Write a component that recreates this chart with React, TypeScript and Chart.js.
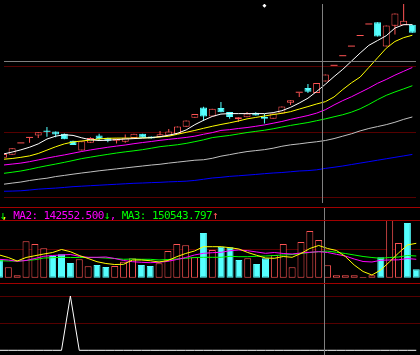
import React, { useEffect, useRef } from "react";
import { Chart, registerables } from "chart.js";

Chart.register(...registerables);

// ---------------- data ----------------
// trading-day slots (0 = partly cut-off first day)
const DAYS = Array.from({ length: 48 }, (_, i) => i);

const OPEN = [9.00, 9.33, 10.50, 11.07, 11.33, 11.75, 11.73, 11.50, 10.77, 9.77, 10.57, 11.33, 11.10, 10.77, 10.67, 11.07, 11.50, 11.23, 11.17, 11.33, 11.50, 12.23, 13.17, 14.23, 13.30, 14.17, 13.77, 13.00, 13.23, 13.70, 13.27, 13.07, 13.60, 14.73, 15.77, 16.27, 15.73, 16.93, 18.57, 19.57, 20.57, 21.67, 22.87, 23.10, 20.57, 22.73, 22.80, 22.83];
const HIGH = [9.40, 10.00, 10.50, 11.07, 11.67, 12.20, 11.73, 11.53, 10.77, 10.73, 11.13, 11.50, 11.10, 11.00, 11.43, 11.50, 11.50, 11.23, 11.80, 12.00, 12.27, 12.87, 13.57, 14.30, 14.10, 14.80, 13.77, 13.22, 13.77, 13.75, 13.55, 13.60, 14.33, 15.00, 15.77, 16.67, 16.77, 17.67, 18.57, 19.57, 20.57, 21.67, 22.87, 23.10, 22.77, 24.00, 25.50, 22.83];
const LOW = [9.00, 9.33, 10.50, 10.57, 11.07, 11.20, 11.13, 10.93, 10.33, 9.77, 10.57, 10.77, 10.63, 10.50, 10.57, 11.07, 11.10, 11.00, 11.15, 11.33, 11.50, 12.23, 13.17, 12.83, 13.30, 13.73, 13.07, 12.73, 13.23, 13.40, 12.57, 13.07, 13.60, 14.50, 15.33, 15.73, 15.73, 16.93, 18.57, 19.57, 20.57, 21.67, 22.87, 21.63, 20.57, 21.83, 22.80, 22.00];
const CLOSE = [9.40, 10.00, 10.50, 11.07, 11.67, 11.71, 11.43, 10.93, 10.33, 10.73, 11.07, 10.93, 10.77, 11.00, 11.10, 11.50, 11.10, 11.00, 11.45, 11.73, 12.27, 12.87, 13.57, 13.30, 14.10, 13.73, 13.25, 13.22, 13.60, 13.40, 13.07, 13.60, 14.33, 15.00, 15.77, 15.87, 16.77, 17.67, 18.57, 19.57, 20.57, 21.67, 22.87, 21.63, 22.77, 24.00, 23.27, 22.00];
const PREV_CLOSE = 9.55; // close of the day before the first slot

const MA5 = [9.40, 9.60, 9.83, 10.10, 10.45, 10.95, 11.25, 11.40, 11.33, 11.08, 10.87, 10.80, 10.83, 10.90, 10.95, 11.00, 11.05, 11.10, 11.20, 11.35, 11.55, 11.90, 12.45, 12.90, 13.30, 13.55, 13.60, 13.60, 13.60, 13.60, 13.60, 13.70, 13.90, 14.25, 14.70, 15.20, 15.90, 16.65, 17.45, 18.20, 19.05, 19.90, 20.70, 21.20, 21.70, 22.50, 22.85, 22.85];
const MA10 = [8.85, 8.93, 9.05, 9.20, 9.45, 9.80, 10.15, 10.45, 10.65, 10.75, 10.85, 10.97, 11.03, 11.05, 11.05, 11.05, 11.07, 11.10, 11.17, 11.25, 11.45, 11.65, 11.85, 12.07, 12.28, 12.47, 12.64, 12.83, 13.05, 13.20, 13.35, 13.50, 13.63, 13.80, 14.07, 14.33, 14.60, 14.84, 15.33, 16.10, 16.80, 17.40, 18.40, 19.40, 20.40, 21.10, 21.50, 21.75];
const MA20 = [8.25, 8.35, 8.45, 8.60, 8.78, 8.97, 9.14, 9.30, 9.48, 9.66, 9.82, 9.96, 10.10, 10.22, 10.33, 10.47, 10.59, 10.70, 10.82, 10.92, 11.02, 11.12, 11.25, 11.45, 11.62, 11.85, 11.93, 12.05, 12.15, 12.28, 12.42, 12.60, 12.78, 13.00, 13.20, 13.40, 13.65, 14.00, 14.50, 14.95, 15.35, 15.80, 16.25, 16.75, 17.15, 17.60, 18.00, 18.40];
const MA30 = [7.38, 7.50, 7.63, 7.80, 8.00, 8.18, 8.35, 8.53, 8.72, 8.92, 9.07, 9.22, 9.36, 9.50, 9.62, 9.73, 9.85, 10.00, 10.16, 10.26, 10.36, 10.50, 10.68, 10.87, 11.10, 11.22, 11.33, 11.48, 11.63, 11.75, 11.87, 12.02, 12.20, 12.37, 12.52, 12.67, 12.86, 13.05, 13.27, 13.48, 13.75, 14.10, 14.55, 15.05, 15.50, 15.85, 16.17, 16.50];
const MA60 = [6.25, 6.37, 6.48, 6.64, 6.77, 6.88, 7.05, 7.17, 7.30, 7.42, 7.53, 7.65, 7.75, 7.85, 7.95, 8.05, 8.15, 8.25, 8.33, 8.45, 8.55, 8.65, 8.75, 8.80, 8.95, 9.17, 9.33, 9.50, 9.65, 9.75, 9.85, 10.00, 10.20, 10.35, 10.45, 10.57, 10.67, 10.80, 11.00, 11.25, 11.50, 11.80, 12.05, 12.25, 12.45, 12.70, 13.00, 13.25];
const MA120 = [5.52, 5.54, 5.57, 5.65, 5.74, 5.80, 5.85, 5.92, 6.00, 6.05, 6.10, 6.15, 6.20, 6.25, 6.30, 6.35, 6.38, 6.42, 6.45, 6.50, 6.53, 6.57, 6.65, 6.77, 6.90, 6.97, 7.07, 7.13, 7.20, 7.27, 7.35, 7.42, 7.47, 7.55, 7.63, 7.67, 7.75, 7.90, 8.02, 8.15, 8.30, 8.45, 8.60, 8.75, 8.90, 9.05, 9.20, 9.35];

const PEAK_MARK_DAY = 30;
const PEAK_MARK_PRICE = 24.83;

const VOLUME = [100200, 58900, 13600, 206000, 190700, 166400, 122800, 132400, 83200, 104100, 64500, 71900, 60600, 66200, 90600, 109800, 71900, 66200, 81500, 151100, 190700, 183400, 115500, 253000, 156800, 175500, 172100, 100200, 109800, 77500, 109800, 128500, 190700, 58900, 202100, 264300, 213400, 70525, 13600, 13600, 13600, 4000, 13600, 115500, 326600, 196400, 309600, 47500];
const VOL_MA1 = [128500, 114300, 94500, 114300, 124500, 134100, 142600, 159600, 147200, 125700, 108700, 90600, 80400, 74700, 75800, 100200, 100200, 96200, 88900, 97400, 118900, 137000, 151100, 175500, 175500, 175500, 169800, 162400, 142600, 126800, 111500, 109800, 120000, 115500, 137000, 165300, 182300, 165300, 154000, 120000, 71900, 35100, 15300, 43600, 90600, 139800, 185100, 194700];
const VOL_MA2 = [104100, 100200, 92800, 97400, 108700, 121100, 125700, 128500, 131300, 121100, 115500, 115500, 117200, 108700, 97400, 90600, 87200, 84900, 87200, 92800, 103000, 114300, 128500, 138100, 141500, 143800, 152800, 156800, 152800, 145500, 138100, 142600, 137000, 134100, 139800, 143800, 147200, 142552.5, 132400, 122800, 105800, 91700, 88900, 98500, 100200, 101300, 108700, 104100];
const VOL_MA3 = [96200, 94500, 94500, 97400, 101900, 111500, 113200, 115500, 114300, 114300, 114300, 114300, 111500, 108700, 104100, 105800, 104100, 104100, 100200, 103000, 105800, 109800, 114300, 115500, 115500, 115500, 121100, 118900, 118900, 121100, 122800, 125700, 128500, 131300, 137000, 142600, 147200, 150543.797, 143800, 137000, 128500, 120000, 114300, 109800, 114300, 117200, 125700, 122800];

const SIGNAL = [0, 0, 0, 0, 0, 0, 0, 0, 100, 0, 0, 0, 0, 0, 0, 0, 0, 0, 0, 0, 0, 0, 0, 0, 0, 0, 0, 0, 0, 0, 0, 0, 0, 0, 0, 0, 0, 0, 0, 0, 0, 0, 0, 0, 0, 0, 0, 0];

const PRICE_GRID = [18.5, 11.7, 4.9];
const VOLUME_GRID = [160700];
const SIGNAL_GRID = [100, 50];

const CROSS_DAY = 37; // day read by the cursor
const CROSS_LINE_X = 36.62;
const CROSS_LINE_PRICE = 19.1;

// ---------------- styles ----------------
const BLACK = "#000000";
const RED = "#ff5454";
const CYAN = "#54ffff";
const WHITE = "#ffffff";
const YELLOW = "#ffff00";
const MAGENTA = "#ff00ff";
const GREEN = "#00ff00";
const LIGHT_GRAY = "#c0c0c0";
const BLUE = "#0000ff";
const CROSS_COLOR = "#808080";
const GRID_COLOR = "#560000";
const BORDER_COLOR = "#a00000";

const X_MIN = 0.064;
const X_MAX = 47.42;

function guides(grid: number[], crossX: number | null, crossY: number | null) {
  return {
    id: "guides",
    beforeDatasetsDraw(chart: any) {
      const { ctx, chartArea: a, scales } = chart;
      ctx.save();
      ctx.lineWidth = 1;
      ctx.strokeStyle = GRID_COLOR;
      for (const v of grid) {
        const y = Math.round(scales.y.getPixelForValue(v)) + 0.5;
        ctx.beginPath();
        ctx.moveTo(a.left, y);
        ctx.lineTo(a.right, y);
        ctx.stroke();
      }
      ctx.restore();
    },
    afterDatasetsDraw(chart: any) {
      const { ctx, chartArea: a, scales } = chart;
      ctx.save();
      ctx.lineWidth = 1;
      ctx.strokeStyle = CROSS_COLOR;
      if (crossY !== null) {
        const y = Math.round(scales.y.getPixelForValue(crossY)) + 0.5;
        ctx.beginPath();
        ctx.moveTo(a.left, y);
        ctx.lineTo(a.right, y);
        ctx.stroke();
      }
      if (crossX !== null) {
        const x = Math.round(scales.x.getPixelForValue(crossX)) + 0.5;
        ctx.beginPath();
        ctx.moveTo(x, a.top);
        ctx.lineTo(x, a.bottom);
        ctx.stroke();
      }
      ctx.restore();
    },
  };
}

function baseOptions(ymin: number, ymax: number): any {
  return {
    responsive: false,
    animation: false,
    devicePixelRatio: 1,
    events: [],
    layout: { padding: 0 },
    plugins: { legend: { display: false }, tooltip: { enabled: false }, title: { display: false } },
    scales: {
      x: { type: "linear", min: X_MIN, max: X_MAX, display: false, offset: false },
      y: { type: "linear", min: ymin, max: ymax, display: false },
    },
  };
}

function lineSet(values: number[], color: string): any {
  return {
    type: "line",
    data: DAYS.map((i) => ({ x: i, y: values[i] })),
    borderColor: color,
    borderWidth: 1,
    pointRadius: 0,
    tension: 0,
    fill: false,
    order: -1,
  };
}

const fmt = (v: number) => v.toFixed(3);
const arrow = (arr: number[]) => (arr[CROSS_DAY] >= arr[CROSS_DAY - 1] ? "↑" : "↓");
const arrowColor = (arr: number[]) => (arr[CROSS_DAY] >= arr[CROSS_DAY - 1] ? RED : GREEN);

export default function App() {
  const mainRef = useRef<HTMLCanvasElement>(null);
  const volRef = useRef<HTMLCanvasElement>(null);
  const sigRef = useRef<HTMLCanvasElement>(null);

  useEffect(() => {
    const charts: Chart[] = [];

    // ----- price panel -----
    const up = DAYS.map((i) => CLOSE[i] >= OPEN[i]);
    const flat = DAYS.map((i) => Math.abs(CLOSE[i] - OPEN[i]) < 0.05);
    const bodyFill = DAYS.map((i) => (!up[i] ? CYAN : flat[i] ? RED : BLACK));
    const bodyEdge = DAYS.map((i) => (up[i] ? RED : CYAN));
    const bodyBorder = DAYS.map((i) => (flat[i] ? 0 : 1));

    charts.push(
      new Chart(mainRef.current!, {
        type: "bar",
        data: {
          datasets: [
            {
              type: "line",
              data: [{ x: PEAK_MARK_DAY, y: PEAK_MARK_PRICE }],
              showLine: false,
              pointStyle: "rectRot",
              pointRadius: 2,
              pointBackgroundColor: WHITE,
              pointBorderColor: WHITE,
              pointBorderWidth: 0,
              order: -2,
            } as any,
            lineSet(MA5, WHITE),
            lineSet(MA10, YELLOW),
            lineSet(MA20, MAGENTA),
            lineSet(MA30, GREEN),
            lineSet(MA60, LIGHT_GRAY),
            lineSet(MA120, BLUE),
            {
              type: "bar",
              data: DAYS.map((i) => ({ x: i, y: [OPEN[i], CLOSE[i]] })),
              backgroundColor: bodyFill,
              borderColor: bodyEdge,
              borderWidth: bodyBorder,
              borderSkipped: false,
              barThickness: 7,
              grouped: false,
              minBarLength: 1,
              inflateAmount: 0,
              order: 0,
            } as any,
            {
              type: "bar",
              data: DAYS.map((i) => ({ x: i, y: [LOW[i], HIGH[i]] })),
              backgroundColor: bodyEdge,
              borderWidth: 0,
              barThickness: 1,
              grouped: false,
              inflateAmount: 0,
              order: 1,
            } as any,
          ],
        },
        options: baseOptions(4.3, 25.0),
        plugins: [guides(PRICE_GRID, CROSS_LINE_X, CROSS_LINE_PRICE)],
      })
    );

    // ----- volume panel -----
    const volUp = DAYS.map((i) => CLOSE[i] >= (i === 0 ? PREV_CLOSE : CLOSE[i - 1]));
    charts.push(
      new Chart(volRef.current!, {
        type: "bar",
        data: {
          datasets: [
            lineSet(VOL_MA1, YELLOW),
            lineSet(VOL_MA2, MAGENTA),
            lineSet(VOL_MA3, GREEN),
            {
              type: "bar",
              data: DAYS.map((i) => ({ x: i, y: VOLUME[i] })),
              backgroundColor: DAYS.map((i) => (volUp[i] ? BLACK : CYAN)),
              borderColor: DAYS.map((i) => (volUp[i] ? RED : CYAN)),
              borderWidth: 1,
              borderSkipped: false,
              barThickness: 7,
              grouped: false,
              inflateAmount: 0,
              order: 0,
            } as any,
          ],
        },
        options: baseOptions(-30000, 400160),
        plugins: [guides(VOLUME_GRID, CROSS_LINE_X, null)],
      })
    );

    // ----- signal panel -----
    charts.push(
      new Chart(sigRef.current!, {
        type: "line",
        data: { datasets: [lineSet(SIGNAL, WHITE)] },
        options: baseOptions(-8.66, 123.94),
        plugins: [guides(SIGNAL_GRID, CROSS_LINE_X, null)],
      })
    );

    return () => charts.forEach((c) => c.destroy());
  }, []);

  const rule = (top: number) => (
    <div style={{ position: "absolute", left: 0, top, width: 420, height: 1, background: BORDER_COLOR, zIndex: 2 }} />
  );

  return (
    <div style={{ position: "fixed", left: 0, top: 0, width: 420, height: 355, background: BLACK, overflow: "hidden" }}>
      <canvas ref={mainRef} width={420} height={207} style={{ position: "absolute", left: 0, top: 0, width: 420, height: 207 }} />
      <canvas ref={volRef} width={420} height={76} style={{ position: "absolute", left: 0, top: 207, width: 420, height: 76 }} />
      <canvas ref={sigRef} width={420} height={72} style={{ position: "absolute", left: 0, top: 283, width: 420, height: 72 }} />
      {rule(207)}
      {rule(220)}
      {rule(283)}
      <div
        style={{
          position: "absolute",
          left: -0.5,
          top: 209,
          font: '11px "DejaVu Sans Mono", monospace',
          letterSpacing: "-0.6px",
          lineHeight: "13px",
          whiteSpace: "pre",
          zIndex: 3,
        }}
      >
        <span style={{ color: arrowColor(VOL_MA1), display: "inline-block", width: 1.8, overflow: "visible" }}>{arrow(VOL_MA1)}</span>
        <span style={{ color: YELLOW }}>, </span>
        <span style={{ color: MAGENTA }}>{"MA2: " + fmt(VOL_MA2[CROSS_DAY])}</span>
        <span style={{ color: arrowColor(VOL_MA2) }}>{arrow(VOL_MA2)}</span>
        <span style={{ color: MAGENTA }}>, </span>
        <span style={{ color: GREEN }}>{"MA3: " + fmt(VOL_MA3[CROSS_DAY])}</span>
        <span style={{ color: arrowColor(VOL_MA3) }}>{arrow(VOL_MA3)}</span>
      </div>
    </div>
  );
}
